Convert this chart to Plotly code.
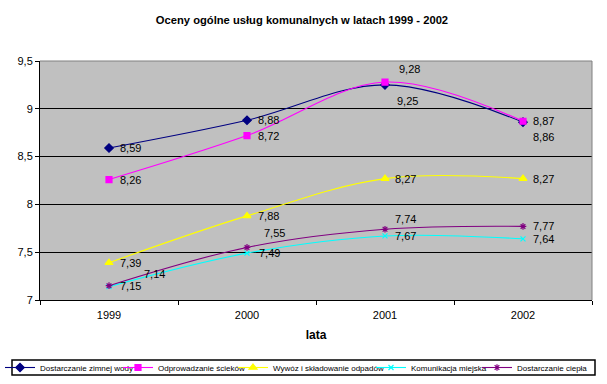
import plotly.graph_objects as go

years = ["1999", "2000", "2001", "2002"]
series_names = [
    "Dostarczanie zimnej wody",
    "Odprowadzanie ścieków",
    "Wywóz i składowanie odpadów",
    "Komunikacja miejska",
    "Dostarczanie ciepła",
]
zimna_woda = [8.59, 8.88, 9.25, 8.86]
scieki = [8.26, 8.72, 9.28, 8.87]
odpady = [7.39, 7.88, 8.27, 8.27]
komunikacja = [7.14, 7.49, 7.67, 7.64]
cieplo = [7.15, 7.55, 7.74, 7.77]

all_values = [zimna_woda, scieki, odpady, komunikacja, cieplo]

colors = ["#000080", "#FF00FF", "#FFFF00", "#00FFFF", "#800080"]
symbols = ["diamond", "square", "triangle-up", "x-thin", "asterisk"]
msizes = [6.5, 6, 7, 5, 5.5]

# label offsets (dx px right, dy px down) relative to the point
label_offsets = [
    [(9, 0), (9, 0), (10, 16), (8, 15)],
    [(9, 0), (9, 0), (12, -13), (8, 0)],
    [(9, 0), (9, 0), (8, 0), (8, 0)],
    [(33, -13), (10, 0), (8, 0), (8, 0)],
    [(9, 0), (15, -14), (8, -10), (8, 0)],
]

W, H = 607, 384
# legend text start x (px) for each entry; legend row centre y (px)
legend_text_x = [43, 166, 281, 419, 525]
legend_y_px = 367.5
legend_pad = 48  # distance from legend x to its text start

fig = go.Figure()
for k, (name, vals, col, sym, ms) in enumerate(zip(series_names, all_values, colors, symbols, msizes)):
    lg = "legend" if k == 0 else f"legend{k + 1}"
    fig.add_trace(go.Scatter(
        x=years, y=vals, name=name, mode="lines+markers", legend=lg,
        line=dict(color=col, width=1.1, shape="spline", smoothing=1),
        marker=dict(symbol=sym, size=ms, color=col, line=dict(color=col, width=1.2)),
    ))

for vals, offs in zip(all_values, label_offsets):
    for i, (v, (dx, dy)) in enumerate(zip(vals, offs)):
        fig.add_annotation(
            x=i, y=v, xref="x", yref="y", text=f"{v:.2f}".replace(".", ","), showarrow=False,
            xanchor="left", yanchor="middle", xshift=dx, yshift=-dy,
            font=dict(family="Liberation Sans, Arial", size=11, color="black"),
        )

# top and right border of plot area (grey)
fig.add_shape(type="line", xref="x domain", yref="y domain", x0=0, x1=1, y0=1, y1=1,
              line=dict(color="#808080", width=1))
fig.add_shape(type="line", xref="x domain", yref="y domain", x0=1, x1=1, y0=0, y1=1,
              line=dict(color="#808080", width=1))

# legend box
ml, mr, mt, mb = 40, 15, 61, 84
pw, ph = W - ml - mr, H - mt - mb
fig.add_shape(type="rect", xref="paper", yref="paper",
              x0=(12 - ml) / pw, x1=(595 - ml) / pw,
              y0=(H - mb - 375) / ph, y1=(H - mb - 360) / ph,
              line=dict(color="black", width=1.5), fillcolor="white", layer="below")

legend_common = dict(orientation="h", xref="container", yref="container",
                     xanchor="left", yanchor="middle", borderwidth=0,
                     bgcolor="rgba(0,0,0,0)", font=dict(size=8), itemwidth=30)

layout_legends = {}
for k, tx in enumerate(legend_text_x):
    key = "legend" if k == 0 else f"legend{k + 1}"
    layout_legends[key] = dict(legend_common, x=(tx - legend_pad) / W, y=1 - legend_y_px / H)

fig.update_layout(
    width=W, height=H,
    margin=dict(l=ml, r=mr, t=mt, b=mb),
    paper_bgcolor="white", plot_bgcolor="#C0C0C0",
    separators=", ",
    font=dict(family="Liberation Sans, Arial", size=11, color="black"),
    title=dict(text="<b>Oceny ogólne usług komunalnych w latach 1999 - 2002</b>",
               x=0.4975, xanchor="center", y=1 - 20 / H, yanchor="middle",
               font=dict(size=11.2)),
    showlegend=True,
    xaxis=dict(type="category", showgrid=False, showline=True, linecolor="black",
               ticks="outside", tickson="boundaries", ticklen=4, tickcolor="black",
               ticklabelstandoff=5,
               title=dict(text="<b>lata</b>", standoff=10, font=dict(size=12)),
               range=[-0.5, 3.5]),
    yaxis=dict(range=[7, 9.5], dtick=0.5, showgrid=True, gridcolor="black", gridwidth=1,
               showline=True, linecolor="black", ticks="outside", ticklen=4,
               tickcolor="black", zeroline=False),
    **layout_legends,
)

fig.write_html("out.html", config={"displayModeBar": False},
               post_script="document.body.style.margin='0';")
